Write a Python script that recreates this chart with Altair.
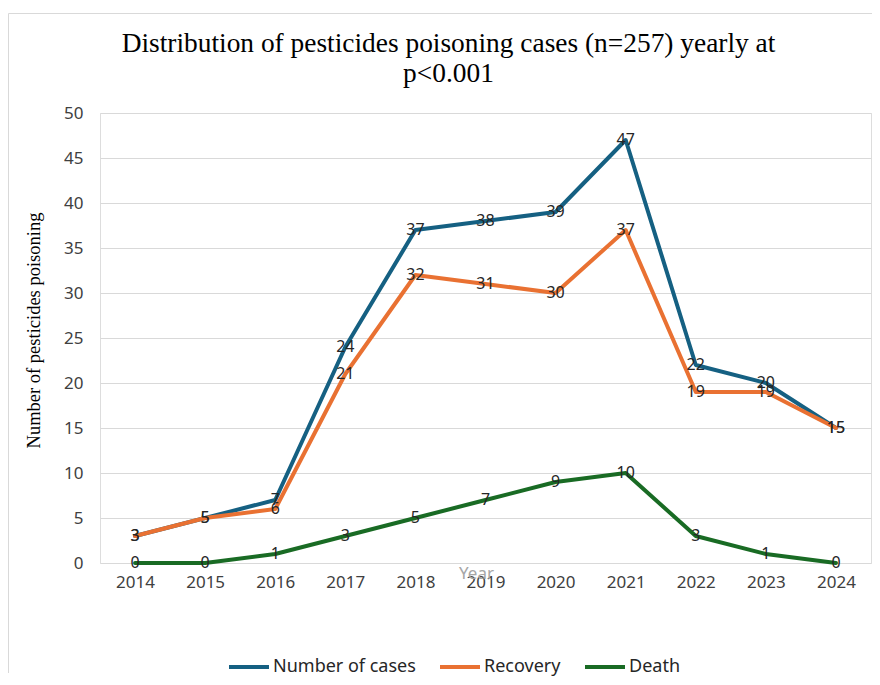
import altair as alt
import pandas as pd

years = ["2014", "2015", "2016", "2017", "2018", "2019", "2020", "2021", "2022", "2023", "2024"]
cases = [3, 5, 7, 24, 37, 38, 39, 47, 22, 20, 15]
recovery = [3, 5, 6, 21, 32, 31, 30, 37, 19, 19, 15]
death = [0, 0, 1, 3, 5, 7, 9, 10, 3, 1, 0]
series_names = ["Number of cases", "Recovery", "Death"]
series_colors = ["#156082", "#E97132", "#196B24"]
y_ticks = [0, 5, 10, 15, 20, 25, 30, 35, 40, 45, 50]

rows = []
for name, vals in zip(series_names, [cases, recovery, death]):
    for yr, v in zip(years, vals):
        rows.append({"Year": yr, "value": v, "series": name})
df = pd.DataFrame(rows)

W, H = 771, 450

x_enc = alt.X("Year:O", sort=years,
              scale=alt.Scale(type="point", padding=0.5),
              axis=alt.Axis(title="Year", labelAngle=0, labelFont="Noto Sans", labelFontSize=17,
                            labelColor="#404040", labelPadding=11, ticks=False, domain=False, grid=False,
                            titleFont="Noto Sans", titleFontSize=17, titleFontWeight="normal",
                            titleColor="#a6a6a6", titleX=376, titleY=10, titleBaseline="middle",
                            titleAlign="center"))
y_enc = alt.Y("value:Q", scale=alt.Scale(domain=[0, 50], nice=False),
              axis=alt.Axis(title="Number of pesticides poisoning", values=y_ticks,
                            labelFont="Noto Sans", labelFontSize=17, labelColor="#404040",
                            labelPadding=17, ticks=False, tickSize=0, domain=False,
                            grid=True, gridColor="#d9d9d9", gridWidth=1,
                            titleFont="Liberation Serif", titleFontSize=18.5, titleFontWeight="normal",
                            titleColor="#000000", titleAngle=-90, titleX=-67, titleY=217,
                            titleAlign="center", titleBaseline="middle"))
color_enc = alt.Color("series:N",
                      scale=alt.Scale(domain=series_names, range=series_colors),
                      legend=alt.Legend(title=None, orient="none", direction="horizontal",
                                        legendX=127, legendY=532, symbolType="stroke",
                                        symbolSize=1600, symbolStrokeWidth=4, labelFont="Noto Sans",
                                        labelFontSize=18, labelColor="#262626", labelOffset=2,
                                        columnPadding=16, padding=0))

base = alt.Chart(df)
lines = [
    base.transform_filter(alt.datum.series == name)
    .mark_line(strokeWidth=4, strokeCap="round", strokeJoin="round")
    .encode(x=x_enc, y=y_enc, color=color_enc)
    for name in series_names
]
labels = base.mark_text(font="Noto Sans", fontSize=16, color="#262626", baseline="middle", align="center").encode(
    x=alt.X("Year:O", sort=years), y="value:Q", text="value:Q")

border_color = "#d9d9d9"
border_left = alt.Chart(pd.DataFrame({"a": [0]})).mark_rule(color=border_color, strokeWidth=1).encode(
    x=alt.value(-91.5), y=alt.value(-99.5), y2=alt.value(560))
border_top = alt.Chart(pd.DataFrame({"a": [0]})).mark_rule(color=border_color, strokeWidth=1).encode(
    x=alt.value(-91.5), x2=alt.value(790), y=alt.value(-99.5))

chart = alt.layer(border_left, border_top, *lines, labels).properties(
    width=W, height=H,
    title=alt.TitleParams(
        text=["Distribution of pesticides poisoning cases (n=257) yearly at", "p<0.001"],
        font="Liberation Serif", fontSize=27.4, fontWeight="normal", color="#000000",
        anchor="middle", frame="group", dx=-37, dy=98, lineHeight=30, offset=24),
    autosize=alt.AutoSizeParams(type="none"),
    padding={"left": 92, "top": 105, "right": 1, "bottom": 114},
).configure_view(stroke=None).configure(background="white")

chart.save("out.html", embed_options={"renderer": "svg", "actions": False})
